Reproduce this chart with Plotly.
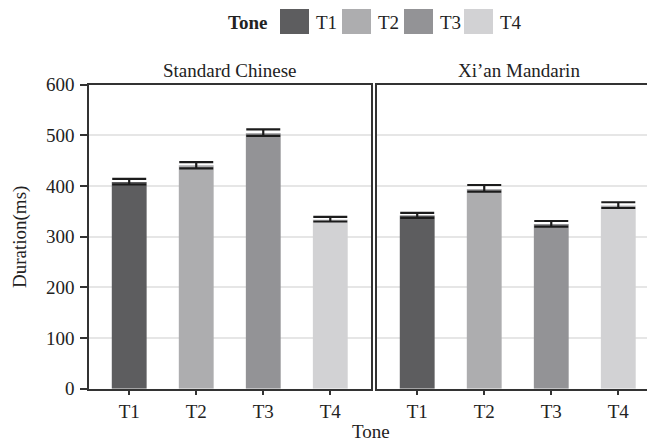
import plotly.graph_objects as go
from plotly.subplots import make_subplots

tones = ["T1", "T2", "T3", "T4"]
panels = ["Standard Chinese", "Xi\u2019an Mandarin"]
sc_mean = [408, 441, 504, 334]
sc_err_up = [6, 6, 8, 5]
sc_err_down = [5, 6, 5, 4]
xa_mean = [342, 394, 325, 362]
xa_err_up = [5, 8, 6, 6]
xa_err_down = [5, 5, 5, 5]
colors = ["#5d5d5f", "#adadaf", "#939396", "#d2d2d4"]
y_ticks = [0, 100, 200, 300, 400, 500, 600]

W, H = 655, 444
OFF = 8  # page body margin
FONT = "Liberation Serif"
FS = 19
TXT = "#222222"
AX = "#333333"


def px(v):
    return (v - OFF) / W


def py(v):
    return 1 - (v - OFF) / H


fig = make_subplots(rows=1, cols=2, shared_yaxes=True)

for col, (means, up, down) in enumerate(
        [(sc_mean, sc_err_up, sc_err_down), (xa_mean, xa_err_up, xa_err_down)], start=1):
    fig.add_trace(go.Bar(
        x=tones, y=means, marker=dict(color=colors, line=dict(width=0)),
        width=0.52, showlegend=False,
        error_y=dict(type="data", symmetric=False, array=up, arrayminus=down,
                     color="#1c1c1c", thickness=2.2, width=17),
    ), row=1, col=col)

y_dom = [py(388.7), py(84.7)]
fig.update_layout(
    width=W, height=H, margin=dict(l=0, r=0, t=0, b=0),
    paper_bgcolor="white", plot_bgcolor="white",
    font=dict(family=FONT, size=FS, color=TXT),
    xaxis=dict(domain=[px(89), px(370.5)], range=[-0.6, 3.6]),
    xaxis2=dict(domain=[px(377), px(658.5)], range=[-0.6, 3.6]),
    yaxis=dict(domain=y_dom),
    yaxis2=dict(domain=y_dom),
)

for ax in ["xaxis", "xaxis2"]:
    fig.layout[ax].update(
        type="category", showgrid=False, showline=True, linecolor=AX, linewidth=1.5,
        mirror=True, ticks="outside", ticklen=5, tickwidth=1.5, tickcolor=AX,
        tickfont=dict(family=FONT, size=FS, color=TXT), automargin=False, zeroline=False)

common_y = dict(range=[0, 600], tickvals=y_ticks, showgrid=True, gridcolor="#e6e6e6",
                gridwidth=1.5, showline=True, linecolor=AX, linewidth=1.5, mirror=True,
                zeroline=False, automargin=False)
fig.layout.yaxis.update(
    **common_y, ticks="outside", ticklen=7, tickwidth=1.5, tickcolor=AX,
    ticklabelstandoff=2, tickfont=dict(family=FONT, size=FS, color=TXT))
fig.layout.yaxis2.update(**common_y, showticklabels=False, ticks="")

# y title
fig.add_annotation(text="Duration(ms)", x=px(20), y=py(237), xref="paper", yref="paper",
                   xanchor="center", yanchor="middle", textangle=-90, showarrow=False,
                   font=dict(family=FONT, size=FS, color=TXT))

# facet strip labels
for name, cx in zip(panels, [229.5, 518.5]):
    fig.add_annotation(text=name, x=px(cx), y=py(70), xref="paper", yref="paper",
                       xanchor="center", yanchor="middle", showarrow=False,
                       font=dict(family=FONT, size=FS, color=TXT))

# x title
fig.add_annotation(text="Tone", x=px(371), y=py(431), xref="paper", yref="paper",
                   xanchor="center", yanchor="middle", showarrow=False,
                   font=dict(family=FONT, size=FS, color=TXT))

# legend (drawn manually to match the large swatches)
fig.add_annotation(text="<b>Tone</b>", x=px(226), y=py(22), xref="paper", yref="paper",
                   xanchor="left", yanchor="middle", showarrow=False,
                   font=dict(family=FONT, size=FS, color=TXT))
sw_left = [280, 342, 404, 464]
for t, c, x0 in zip(tones, colors, sw_left):
    fig.add_shape(type="rect", xref="paper", yref="paper",
                  x0=px(x0), x1=px(x0 + 29), y0=py(34), y1=py(9),
                  fillcolor=c, line=dict(width=0))
    fig.add_annotation(text=t, x=px(x0 + 34), y=py(22), xref="paper", yref="paper",
                       xanchor="left", yanchor="middle", showarrow=False,
                       font=dict(family=FONT, size=FS, color=TXT))

fig.write_html("out.html")
